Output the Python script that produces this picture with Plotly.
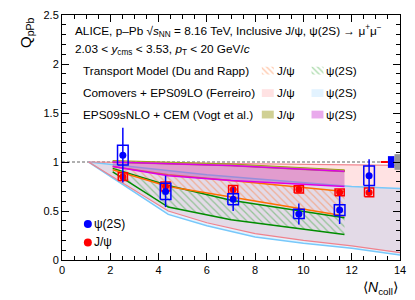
import plotly.graph_objects as go

# ---------------- data ----------------
ncoll = [2.52, 4.29, 7.09, 9.81, 11.50, 12.72]
jpsi_q = [0.85, 0.75, 0.72, 0.72, 0.69, 0.69]
jpsi_stat = [0.03, 0.03, 0.03, 0.025, 0.025, 0.03]
jpsi_syst = [0.04, 0.045, 0.04, 0.037, 0.035, 0.045]
psi2s_q = [1.07, 0.70, 0.62, 0.47, 0.51, 0.86]
psi2s_stat = [0.28, 0.16, 0.12, 0.107, 0.143, 0.167]
psi2s_syst = [0.10, 0.083, 0.057, 0.047, 0.055, 0.10]

# global uncertainties (J/psi, psi(2S), common)
glob_x_lo = [13.2, 13.5, 13.77]
glob_x_hi = [13.5, 13.77, 14.05]
glob_unc = [0.01, 0.06, 0.08]

# Transport model (Du and Rapp)
tr_x = [2.1, 4.4, 7.0, 11.7]
tr_jpsi_hi = [0.955, 0.87, 0.81, 0.70]
tr_jpsi_lo = [0.92, 0.75, 0.643, 0.45]
tr_psi_hi = [0.935, 0.76, 0.61, 0.43]
tr_psi_lo = [0.90, 0.54, 0.41, 0.26]

# Comovers + EPS09LO (Ferreiro)
co_x = [1.1, 4.4, 6.0, 8.0, 10.0, 12.0, 14.0]
co_jpsi_hi = [1.0, 0.99, 0.985, 0.98, 0.975, 0.97, 0.965]
co_jpsi_lo = [1.0, 0.50, 0.38, 0.27, 0.20, 0.145, 0.075]
co_psi_hi = [1.0, 0.91, 0.87, 0.83, 0.79, 0.75, 0.73]
co_psi_lo = [1.0, 0.465, 0.35, 0.235, 0.17, 0.12, 0.05]

# EPS09sNLO + CEM (Vogt et al.)
ep_x = [2.1, 4.4, 7.0, 11.7]
ep_jpsi_hi = [1.015, 1.0, 0.98, 0.92]
ep_jpsi_lo = [0.995, 0.98, 0.96, 0.90]
ep_psi_hi = [1.0, 0.985, 0.965, 0.905]
ep_psi_lo = [0.955, 0.86, 0.81, 0.75]

x_range = [0, 14]
y_range = [0, 2.5]
unity = [1.0, 1.0]

FONT = "Liberation Sans, Arial, sans-serif"
BLUE = "rgb(0,0,255)"
RED = "rgb(255,0,0)"
ORANGE_HATCH = "rgba(255,120,50,0.9)"
GREEN_HATCH = "rgba(50,165,50,0.9)"


def band(x, lo, hi):
    return list(x) + list(x)[::-1], list(hi) + list(lo)[::-1]


def boxes(xc, yc, dx, dy):
    xs, ys = [], []
    for xi, yi, di in zip(xc, yc, dy):
        xs += [xi - dx, xi + dx, xi + dx, xi - dx, xi - dx, None]
        ys += [yi - di, yi - di, yi + di, yi + di, yi - di, None]
    return xs, ys


def rects(x0, x1, yc, dy):
    xs, ys = [], []
    for a, b, d in zip(x0, x1, dy):
        xs += [a, b, b, a, a, None]
        ys += [yc - d, yc - d, yc + d, yc + d, yc - d, None]
    return xs, ys


fig = go.Figure()

# unity line
fig.add_trace(go.Scatter(x=x_range, y=unity, mode="lines",
                         line=dict(color="rgb(150,150,150)", width=1.3, dash="3px,2px"),
                         showlegend=False, hoverinfo="skip"))

# Comovers bands
bx, by = band(co_x, co_jpsi_lo, co_jpsi_hi)
fig.add_trace(go.Scatter(x=bx, y=by, fill="toself", mode="none",
                         fillcolor="rgba(255,60,70,0.15)", showlegend=False))
bx, by = band(co_x, co_psi_lo, co_psi_hi)
fig.add_trace(go.Scatter(x=bx, y=by, fill="toself", mode="none",
                         fillcolor="rgba(60,170,255,0.14)", showlegend=False))
for arr in (co_psi_hi, co_psi_lo):
    fig.add_trace(go.Scatter(x=co_x, y=arr, mode="lines",
                             line=dict(color="rgb(120,200,250)", width=1.5), showlegend=False))
for arr in (co_jpsi_hi, co_jpsi_lo):
    fig.add_trace(go.Scatter(x=co_x, y=arr, mode="lines",
                             line=dict(color="rgb(240,130,140)", width=1.2), showlegend=False))

# Transport bands (hatched)
bx, by = band(tr_x, tr_psi_lo, tr_psi_hi)
fig.add_trace(go.Scatter(x=bx, y=by, fill="toself", mode="none", fillcolor="rgba(0,0,0,0)",
                         fillpattern=dict(shape="\\", fgcolor=GREEN_HATCH,
                                          bgcolor="rgba(0,0,0,0)", size=5, solidity=0.25),
                         showlegend=False))
bx, by = band(tr_x, tr_jpsi_lo, tr_jpsi_hi)
fig.add_trace(go.Scatter(x=bx, y=by, fill="toself", mode="none", fillcolor="rgba(0,0,0,0)",
                         fillpattern=dict(shape="\\", fgcolor=ORANGE_HATCH,
                                          bgcolor="rgba(0,0,0,0)", size=5, solidity=0.25),
                         showlegend=False))
for arr in (tr_psi_hi, tr_psi_lo):
    fig.add_trace(go.Scatter(x=tr_x, y=arr, mode="lines",
                             line=dict(color="rgb(0,140,0)", width=1.5), showlegend=False))
for arr in (tr_jpsi_hi, tr_jpsi_lo):
    fig.add_trace(go.Scatter(x=tr_x, y=arr, mode="lines",
                             line=dict(color="rgb(255,110,0)", width=1.5), showlegend=False))

# EPS09sNLO + CEM bands
bx, by = band(ep_x, ep_jpsi_lo, ep_jpsi_hi)
fig.add_trace(go.Scatter(x=bx, y=by, fill="toself", mode="lines",
                         line=dict(color="rgb(160,160,30)", width=1),
                         fillcolor="rgba(170,170,60,0.7)", showlegend=False))
bx, by = band(ep_x, ep_psi_lo, ep_psi_hi)
fig.add_trace(go.Scatter(x=bx, y=by, fill="toself", mode="none",
                         fillcolor="rgba(190,70,180,0.45)", showlegend=False))
for arr in (ep_psi_hi, ep_psi_lo):
    fig.add_trace(go.Scatter(x=ep_x, y=arr, mode="lines",
                             line=dict(color="rgb(220,0,230)", width=1.5), showlegend=False))

# global uncertainties
gx, gy = rects(glob_x_lo[:1], glob_x_hi[:1], 1.0, glob_unc[:1])
fig.add_trace(go.Scatter(x=gx, y=gy, fill="toself", mode="none", fillcolor=RED, showlegend=False))
gx, gy = rects(glob_x_lo[1:2], glob_x_hi[1:2], 1.0, glob_unc[1:2])
fig.add_trace(go.Scatter(x=gx, y=gy, fill="toself", mode="none", fillcolor=BLUE, showlegend=False))
gx, gy = rects(glob_x_lo[2:], glob_x_hi[2:], 1.0, glob_unc[2:])
fig.add_trace(go.Scatter(x=gx, y=gy, fill="toself", mode="none",
                         fillcolor="rgb(150,150,150)", showlegend=False))

# data: J/psi
sx, sy = boxes(ncoll, jpsi_q, 0.19, jpsi_syst)
fig.add_trace(go.Scatter(x=sx, y=sy, mode="lines", line=dict(color=RED, width=1.5),
                         showlegend=False))
fig.add_trace(go.Scatter(x=ncoll, y=jpsi_q, mode="markers",
                         marker=dict(color=RED, size=7),
                         error_y=dict(type="data", array=jpsi_stat, color=RED, thickness=1.5, width=0),
                         showlegend=False))
# data: psi(2S)
sx, sy = boxes(ncoll, psi2s_q, 0.22, psi2s_syst)
fig.add_trace(go.Scatter(x=sx, y=sy, mode="lines", line=dict(color=BLUE, width=1.5),
                         showlegend=False))
fig.add_trace(go.Scatter(x=ncoll, y=psi2s_q, mode="markers",
                         marker=dict(color=BLUE, size=7),
                         error_y=dict(type="data", array=psi2s_stat, color=BLUE, thickness=1.5, width=0),
                         showlegend=False))

# ---------------- legend (overlay pixel axes) ----------------
def swatch(x0, y0, **kw):
    xs = [x0, x0 + 12, x0 + 12, x0, x0]
    ys = [y0 - 4, y0 - 4, y0 + 4, y0 + 4, y0 - 4]
    fig.add_trace(go.Scatter(x=xs, y=ys, xaxis="x2", yaxis="y2", fill="toself",
                             showlegend=False, hoverinfo="skip", **kw))

row_y = [66, 89, 111]
sw_x = [263, 313]
swatch(sw_x[0], row_y[0], mode="none", fillcolor="rgba(0,0,0,0)",
       fillpattern=dict(shape="\\", fgcolor=ORANGE_HATCH, bgcolor="rgba(0,0,0,0)",
                        size=4, solidity=0.3))
swatch(sw_x[1], row_y[0], mode="none", fillcolor="rgba(0,0,0,0)",
       fillpattern=dict(shape="\\", fgcolor=GREEN_HATCH, bgcolor="rgba(0,0,0,0)",
                        size=4, solidity=0.3))
swatch(sw_x[0], row_y[1], mode="none", fillcolor="rgba(255,60,70,0.15)")
swatch(sw_x[1], row_y[1], mode="none", fillcolor="rgba(60,170,255,0.14)")
swatch(sw_x[0], row_y[2], mode="none", fillcolor="rgba(170,170,60,0.55)")
swatch(sw_x[1], row_y[2], mode="none", fillcolor="rgba(215,100,220,0.55)")

fig.add_trace(go.Scatter(x=[88, 88], y=[223, 242], xaxis="x2", yaxis="y2", mode="markers",
                         marker=dict(color=[BLUE, RED], size=8), showlegend=False,
                         hoverinfo="skip"))

ann = []
def txt(x, y, s, size=11.8, **kw):
    d = dict(x=x, y=y, xref="x2", yref="y2", text=s, showarrow=False,
             xanchor="left", yanchor="middle", font=dict(family=FONT, size=size, color="black"))
    d.update(kw)
    ann.append(d)

txt(73, 25, "ALICE, p–Pb √<i>s</i><sub>NN</sub> = 8.16 TeV, Inclusive J/ψ, ψ(2S) → μ<sup>+</sup>μ<sup>−</sup>")
txt(73, 44, "2.03 < <i>y</i><sub>cms</sub> < 3.53, <i>p</i><sub>T</sub> < 20 GeV/<i>c</i>")
labels = ["Transport Model (Du and Rapp)", "Comovers + EPS09LO (Ferreiro)",
          "EPS09sNLO + CEM (Vogt et al.)"]
for yy, lab in zip(row_y, labels):
    txt(81, yy, lab)
    txt(276, yy, "J/ψ")
    txt(326, yy, "ψ(2S)")
txt(92, 223, "ψ(2S)", size=12)
txt(92, 242, "J/ψ", size=12)

# axis titles
ann.append(dict(x=-0.105, y=1.0, xref="paper", yref="paper", text="Q<sub>pPb</sub>",
                textangle=-90, showarrow=False, xanchor="center", yanchor="top",
                font=dict(family=FONT, size=15, color="black")))
ann.append(dict(x=1.0, y=-0.07, xref="paper", yref="paper", text="⟨<i>N</i><sub>coll</sub>⟩",
                showarrow=False, xanchor="right", yanchor="top",
                font=dict(family=FONT, size=14, color="black")))

axis_common = dict(showgrid=False, zeroline=False, showline=True, linecolor="black",
                   linewidth=1, mirror="ticks", ticks="inside", ticklen=7, tickcolor="black",
                   tickfont=dict(family=FONT, size=11, color="black"))
fig.update_layout(
    width=415, height=300,
    margin=dict(l=62, r=13, t=9, b=40),
    paper_bgcolor="white", plot_bgcolor="white",
    showlegend=False,
    xaxis=dict(range=x_range, dtick=2, minor=dict(dtick=0.5, ticks="inside", ticklen=4,
                                                  tickcolor="black"), **axis_common),
    yaxis=dict(range=y_range, dtick=0.5, minor=dict(dtick=0.1, ticks="inside", ticklen=4,
                                                    tickcolor="black"), **axis_common),
    xaxis2=dict(overlaying="x", range=[62, 402], visible=False, anchor="y2"),
    yaxis2=dict(overlaying="y", range=[260, 9], visible=False, anchor="x2"),
    annotations=ann,
)

fig.write_html("out.html", config={"displayModeBar": False},
               post_script="document.body.style.margin='0';")
